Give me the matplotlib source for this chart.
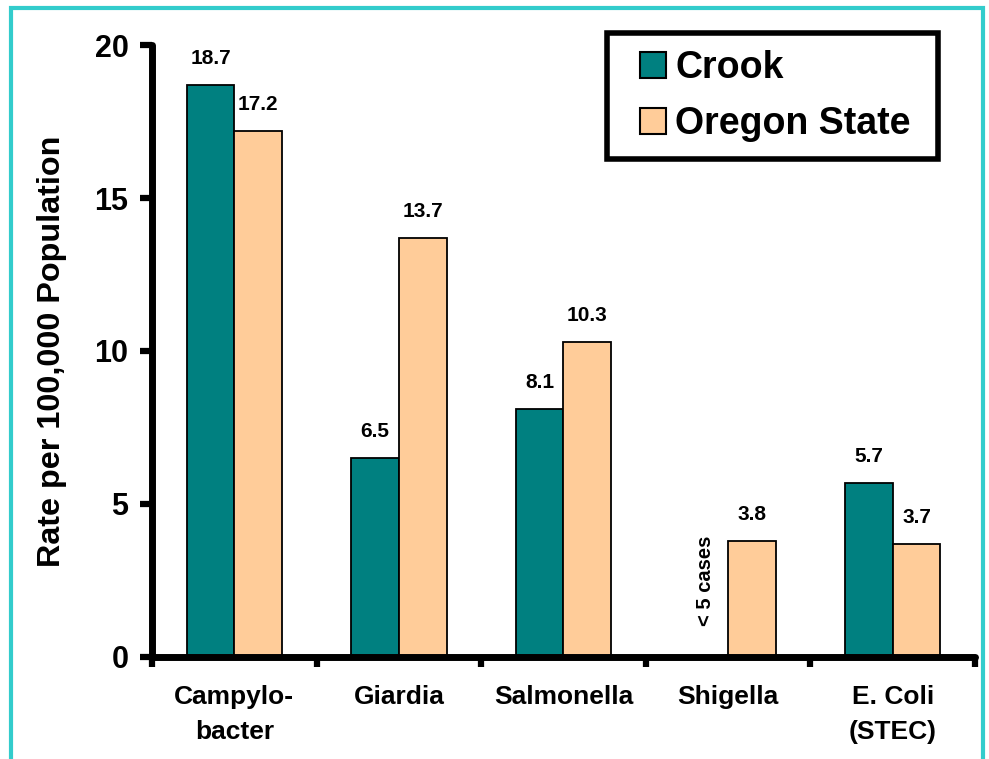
import matplotlib
matplotlib.use('Agg')
import matplotlib.pyplot as plt
from matplotlib.patches import Rectangle
from matplotlib.lines import Line2D
import numpy as np

categories = ['Campylo-\nbacter', 'Giardia', 'Salmonella', 'Shigella', 'E. Coli\n(STEC)']
crook = [18.7, 6.5, 8.1, np.nan, 5.7]
oregon = [17.2, 13.7, 10.3, 3.8, 3.7]
crook_labels = ['18.7', '6.5', '8.1', None, '5.7']
oregon_labels = ['17.2', '13.7', '10.3', '3.8', '3.7']
yticks = [0, 5, 10, 15, 20]

teal = '#008080'
peach = '#FFCC99'

plt.rcParams['font.family'] = ['Liberation Sans', 'DejaVu Sans']
plt.rcParams['font.weight'] = 'bold'

fig = plt.figure(figsize=(9.89, 7.59), dpi=100)
ax = fig.add_axes([0.1537, 0.1344, 0.9858 - 0.1537, 0.9407 - 0.1344])

x = np.arange(len(categories))
w = 0.29
ax.bar(x - w / 2, crook, w, color=teal, edgecolor='black', linewidth=1.3, zorder=2)
ax.bar(x + w / 2, oregon, w, color=peach, edgecolor='black', linewidth=1.3, zorder=2)

for i in range(len(categories)):
    if crook_labels[i]:
        ax.text(x[i] - w / 2, crook[i] + 0.55, crook_labels[i], ha='center', va='bottom',
                fontsize=15, fontweight='bold')
    ax.text(x[i] + w / 2, oregon[i] + 0.55, oregon_labels[i], ha='center', va='bottom',
            fontsize=15, fontweight='bold')
ax.text(x[3] - 0.135, 2.48, '< 5 cases', rotation=90, ha='center', va='center',
        fontsize=14.5, fontweight='bold')

ax.set_xlim(-0.5, len(categories) - 0.5)
ax.set_ylim(0, 20)
ax.set_yticks(yticks)
ax.set_yticklabels([str(t) for t in yticks], fontsize=22, fontweight='bold')
ax.set_xticks(np.arange(-0.5, len(categories), 1.0))
ax.set_xticklabels([])
ax.set_xticks(x, minor=True)
ax.set_xticklabels(categories, minor=True, fontsize=19, fontweight='bold')
ax.tick_params(axis='x', which='minor', length=0, pad=20)
ax.tick_params(axis='x', which='major', direction='out', length=7, width=4.5)
ax.tick_params(axis='y', direction='out', length=9, width=4.5, pad=8)
for lbl in ax.get_xticklabels(minor=True):
    lbl.set_linespacing(1.6)

for s in ['top', 'right']:
    ax.spines[s].set_visible(False)
for s in ['left', 'bottom']:
    ax.spines[s].set_linewidth(5)
    ax.spines[s].set_capstyle('round')
ax.spines['left'].set_zorder(3)

ax.set_ylabel('Rate per 100,000 Population', fontsize=23.3, fontweight='bold')
ax.yaxis.set_label_coords(-0.1035, 0.5)

handles = [Line2D([], [], linestyle='none', marker='s', markersize=18.5, markerfacecolor=teal,
                  markeredgecolor='black', markeredgewidth=1.5),
           Line2D([], [], linestyle='none', marker='s', markersize=18.5, markerfacecolor=peach,
                  markeredgecolor='black', markeredgewidth=1.5)]
leg = ax.legend(handles, ['Crook', 'Oregon State '], loc='upper right',
                bbox_to_anchor=(0.955, 1.0196), prop={'weight': 'bold', 'size': 27},
                frameon=True, fancybox=False, framealpha=1,
                handlelength=1.52, handletextpad=-0.16,
                borderpad=0.45, labelspacing=0.53, borderaxespad=0.0)
leg.get_frame().set_edgecolor('black')
leg.get_frame().set_linewidth(4)

fig.patches.append(Rectangle((11 / 989, -0.05), (983 - 11) / 989, (759 - 8) / 759 + 0.05,
                             transform=fig.transFigure, fill=False, edgecolor='#33CCCC',
                             linewidth=3, zorder=0))

fig.savefig('out.png', dpi=100)
